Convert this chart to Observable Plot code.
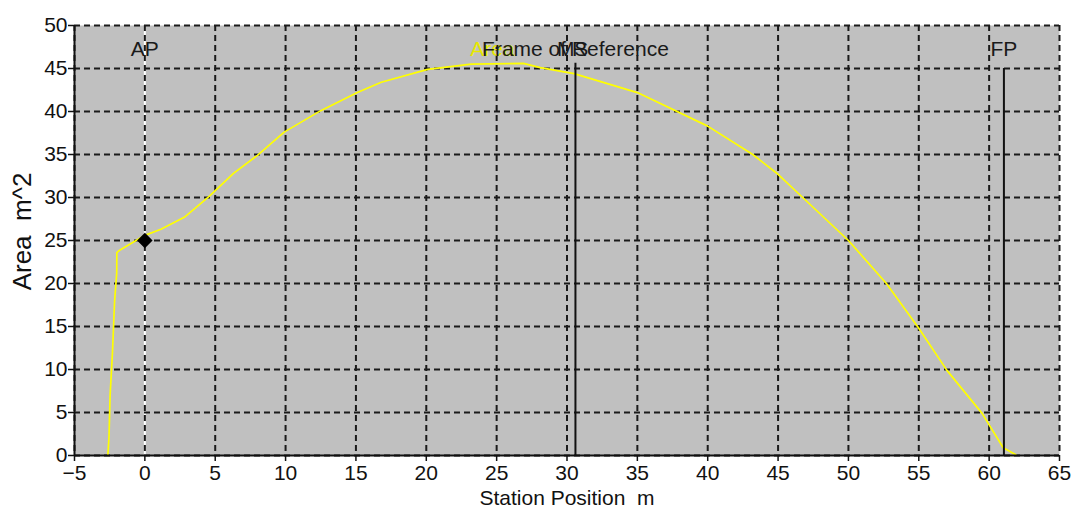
<!DOCTYPE html>
<html>
<head>
<meta charset="utf-8">
<script src="https://cdn.jsdelivr.net/npm/d3@7"></script>
<script src="https://cdn.jsdelivr.net/npm/@observablehq/plot@0.6"></script>
<style>
  html, body { margin: 0; padding: 0; background: #ffffff; }
  #chart { width: 1071px; height: 514px; }
</style>
</head>
<body>
<div id="chart"></div>
<script>
// Sectional area curve: station position (m) vs area (m^2)
const stationX = [-2.63, -2.55, -2.47, -2.3, -2.15, -2.0, -1.99, -1.85, 0, 1.14, 2.8, 4.55, 6.3, 8.0, 9.9, 12.5, 15.1, 16.8, 20.1, 23.2, 26.9, 28.1, 30.5, 35.0, 40.0, 43.2, 45.0, 46.75, 50.0, 52.7, 55.0, 57.0, 59.5, 61.0, 61.9];
const areaY    = [0,     2.1,   7.0,   12.0, 18.0,  21.2, 23.6,  23.8,  25.6, 26.3, 27.7, 30.1, 32.8, 34.9, 37.6, 40.1, 42.2, 43.4, 44.9, 45.5, 45.6, 45.1, 44.4, 42.2, 38.3, 35.0, 32.7, 30.0,  25.0, 20.0, 14.8, 9.9,  4.9,  0.9,  0.1];

// Marker point
const markerX = [0];
const markerY = [25];

// Reference lines
const apX = [0];
const refLineX = [30.6, 61.05];
const refLineTop = [45.6, 45.0];

// Annotation labels (data coordinates)
const labelText = ["Area", "AP", "Frame of Reference", "MS", "FP"];
const labelX    = [24.7, 0, 30.6, 30.4, 61.05];
const labelY    = [47.2, 47.2, 47.2, 47.2, 47.2];
const labelColor = ["#e8e800", "#1a1a1a", "#1a1a1a", "#1a1a1a", "#1a1a1a"];

// Axis ticks and titles
const xTicks = d3.range(-5, 66, 5);
const yTicks = d3.range(0, 51, 5);
const xTitle = "Station Position  m";
const yTitle = "Area  m^2";

const curve = stationX.map((x, i) => ({x, y: areaY[i]}));
const marker = markerX.map((x, i) => ({x, y: markerY[i]}));
const refLines = refLineX.map((x, i) => ({x, top: refLineTop[i]}));
const labels = labelText.map((t, i) => ({text: t, x: labelX[i], y: labelY[i], color: labelColor[i]}));

const font = "'Liberation Sans', Arial, sans-serif";

const chart = Plot.plot({
  width: 1071,
  height: 514,
  marginLeft: 74,
  marginRight: 12,
  marginTop: 25,
  marginBottom: 59,
  style: {fontFamily: font, fontSize: "21px", color: "#111", background: "#ffffff", overflow: "visible"},
  x: {domain: [-5, 65]},
  y: {domain: [0, 50]},
  marks: [
    Plot.frame({fill: "#c0c0c0", stroke: "none"}),
    Plot.ruleX(apX, {x: d => d, y1: 0, y2: 50, stroke: "#ffffff", strokeWidth: 2}),
    Plot.gridX(xTicks, {stroke: "#1a1a1a", strokeOpacity: 1, strokeWidth: 2, strokeDasharray: "6,4"}),
    Plot.gridY(yTicks, {stroke: "#1a1a1a", strokeOpacity: 1, strokeWidth: 2, strokeDasharray: "6,4"}),
    Plot.line(curve, {x: "x", y: "y", stroke: "#ffff00", strokeWidth: 1.7}),
    Plot.ruleX(refLines, {x: "x", y1: 0, y2: "top", stroke: "#111", strokeWidth: 2}),
    Plot.text(labels, {x: "x", y: "y", text: "text", fill: "color", fontSize: 21, fontFamily: font}),
    Plot.dot(marker, {x: "x", y: "y", symbol: "diamond2", r: 6, fill: "#000", stroke: "#000"}),
    Plot.ruleY([0], {stroke: "#111", strokeWidth: 2}),
    Plot.ruleX([-5], {stroke: "#111", strokeWidth: 2}),
    Plot.axisX(xTicks, {tickSize: 6, tickPadding: 4, fontSize: 21, label: null, stroke: "#111", strokeWidth: 1.5}),
    Plot.axisY(yTicks, {tickSize: 6, tickPadding: 1, fontSize: 21, label: null, stroke: "#111", strokeWidth: 1.5}),
    Plot.text([xTitle], {frameAnchor: "bottom", dy: 43, lineAnchor: "middle", textAnchor: "middle", fontSize: 21, fill: "#111", fontFamily: font}),
    Plot.text([yTitle], {frameAnchor: "left", rotate: -90, dx: -52, dy: -9, textAnchor: "middle", lineAnchor: "middle", fontSize: 26, fill: "#111", fontFamily: font})
  ]
});
document.getElementById("chart").appendChild(chart);
</script>
</body>
</html>
